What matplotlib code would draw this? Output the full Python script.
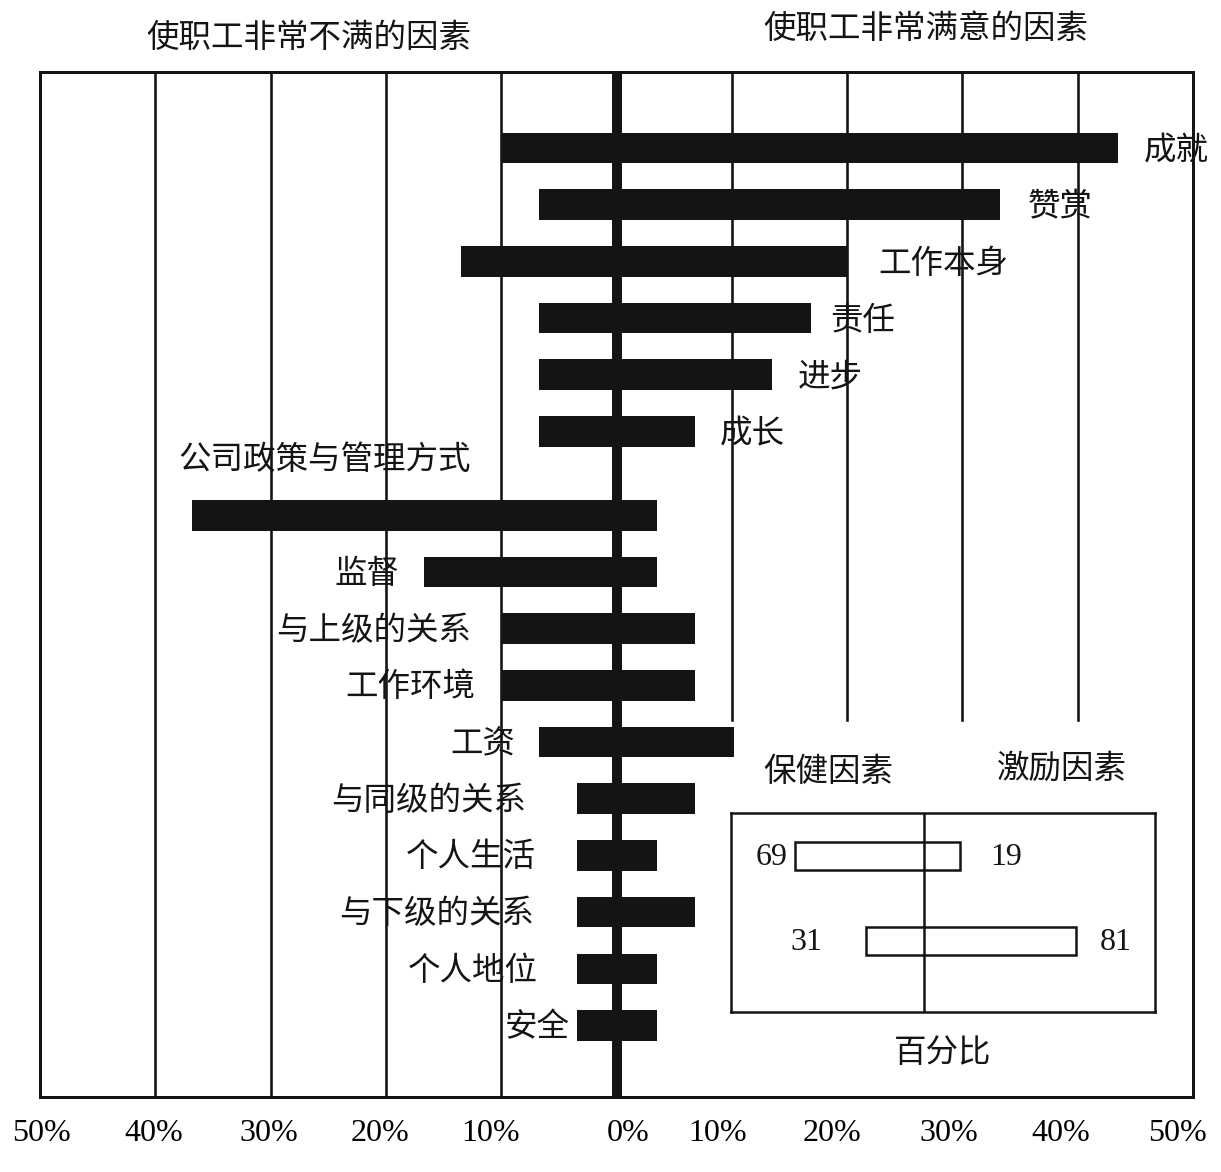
import numpy as np
import matplotlib
matplotlib.use('Agg')
import matplotlib.pyplot as plt
import matplotlib.transforms as mtransforms

plt.rcParams['font.family'] = ['Liberation Serif', 'Noto Sans CJK SC', 'DejaVu Sans']

# ---------------- data ----------------
motivators = ['成就', '赞赏', '工作本身', '责任', '进步', '成长']
dissat_mot = [10.0, 6.7, 13.5, 6.7, 6.7, 6.7]
sat_mot = [43.5, 33.3, 20.0, 16.9, 13.5, 6.8]

hygiene = ['公司政策与管理方式', '监督', '与上级的关系', '工作环境', '工资',
           '与同级的关系', '个人生活', '与下级的关系', '个人地位', '安全']
dissat_hyg = [36.8, 16.7, 10.0, 10.0, 6.7, 3.4, 3.4, 3.4, 3.4, 3.4]
sat_hyg = [3.5, 3.5, 6.8, 6.8, 10.2, 6.8, 3.5, 6.8, 3.5, 3.5]

tick_values = [-50, -40, -30, -20, -10, 0, 10, 20, 30, 40, 50]
tick_labels = ['50%', '40%', '30%', '20%', '10%', '0%', '10%', '20%', '30%', '40%', '50%']

title_left = '使职工非常不满的因素'
title_right = '使职工非常满意的因素'

inset_header_left = '保健因素'
inset_header_right = '激励因素'
inset_xlabel = '百分比'
inset_left_vals = [69, 31]
inset_right_vals = [19, 81]

# ---------------- layout ----------------
W, H = 1221, 1172
DPI = 72
fig = plt.figure(figsize=(W / DPI, H / DPI), dpi=DPI)
fig.patch.set_facecolor('white')

CJK = ['Noto Sans CJK SC', 'DejaVu Sans']
FS = 32.5
BLACK = '#141414'

ax = fig.add_axes([40 / W, 1 - 1097 / H, 1153 / W, 1025 / H])
ax.set_xlim(-50, 50)

gap = 0.48
y_mot = np.arange(len(motivators), dtype=float)
y_hyg = len(motivators) + gap + np.arange(len(hygiene), dtype=float)
ax.set_ylim(16.74, -1.34)

bar_h = 0.54
dm = np.array(dissat_mot); sm = np.array(sat_mot)
dh = np.array(dissat_hyg); sh = np.array(sat_hyg)

# gridlines
for v in [-40, -30, -20, -10]:
    ax.axvline(v, color=BLACK, lw=2.6, zorder=1)
for v in [10, 20, 30, 40]:
    ax.axvline(v, ymin=0.368, ymax=1, color=BLACK, lw=2.6, zorder=1)

ax.barh(y_mot, dm + sm, left=-dm, height=bar_h, color=BLACK, zorder=2)
ax.barh(y_hyg, dh + sh, left=-dh, height=bar_h, color=BLACK, zorder=2)
ax.axvline(0, color=BLACK, lw=10, zorder=3)

for s in ax.spines.values():
    s.set_linewidth(3)
    s.set_color(BLACK)

ax.set_yticks([])
ax.set_xticks(tick_values)
ax.set_xticklabels(tick_labels, fontsize=32, family=['Liberation Serif'])
ax.tick_params(axis='x', length=0, pad=22)
shifts = [1, -2, -2, -6, -11, 12, -14, -15, -14, -17, -16]
for lab, dx in zip(ax.get_xticklabels(), shifts):
    lab.set_transform(lab.get_transform() +
                      mtransforms.ScaledTranslation(dx / DPI, 0, fig.dpi_scale_trans))

# motivator labels (right of bars)
mot_gaps = [26, 27, 31, 19, 26, 25]
for name, y, r, g in zip(motivators, y_mot, sm, mot_gaps):
    ax.annotate(name, xy=(r, y), xytext=(g, -3), textcoords='offset points',
                ha='left', va='center', fontsize=FS, family=CJK, color=BLACK)

# hygiene labels (left of bars)
hyg_gaps = [None, 24, 30, 26, 24, 51, 41, 43, 39, 8]
for name, y, l, g in zip(hygiene, y_hyg, dh, hyg_gaps):
    if g is None:
        ax.annotate(name, xy=(-l, y), xytext=(-14, 55), textcoords='offset points',
                    ha='left', va='center', fontsize=FS, family=CJK, color=BLACK)
    else:
        ax.annotate(name, xy=(-l, y), xytext=(-g, -2), textcoords='offset points',
                    ha='right', va='center', fontsize=FS, family=CJK, color=BLACK)

# titles
fig.text(309 / W, 1 - 38 / H, title_left, ha='center', va='center',
         fontsize=FS, family=CJK, color=BLACK)
fig.text(926 / W, 1 - 29 / H, title_right, ha='center', va='center',
         fontsize=FS, family=CJK, color=BLACK)

# ---------------- inset ----------------
axi = fig.add_axes([731 / W, 1 - 1012 / H, 424 / W, 199 / H])
axi.set_xlim(-103, 123)
axi.set_ylim(1.835, -0.506)
axi.set_xticks([]); axi.set_yticks([])
for s in axi.spines.values():
    s.set_linewidth(2.5)
    s.set_color(BLACK)
il = np.array(inset_left_vals); ir = np.array(inset_right_vals)
iy = np.arange(len(il), dtype=float)
axi.barh(iy, il + ir, left=-il, height=0.335, fill=False, edgecolor=BLACK, lw=2.5, zorder=2)
axi.axvline(0, color=BLACK, lw=2.5, zorder=3)
left_offsets = [-7, -44]
right_offsets = [30, 24]
for y, l, r, lo, ro in zip(iy, il, ir, left_offsets, right_offsets):
    axi.annotate(str(l), xy=(-l, y), xytext=(lo, -1), textcoords='offset points',
                 ha='right', va='center', fontsize=32, family=['Liberation Serif'], color=BLACK)
    axi.annotate(str(r), xy=(r, y), xytext=(ro, -1), textcoords='offset points',
                 ha='left', va='center', fontsize=32, family=['Liberation Serif'], color=BLACK)
axi.text(0.229, 1.206, inset_header_left, transform=axi.transAxes, ha='center', va='center',
         fontsize=FS, family=CJK, color=BLACK)
axi.text(0.781, 1.221, inset_header_right, transform=axi.transAxes, ha='center', va='center',
         fontsize=FS, family=CJK, color=BLACK)
axi.text(0.5, -0.206, inset_xlabel, transform=axi.transAxes, ha='center', va='center',
         fontsize=FS, family=CJK, color=BLACK)

fig.savefig('out.png', dpi=DPI, facecolor='white')
